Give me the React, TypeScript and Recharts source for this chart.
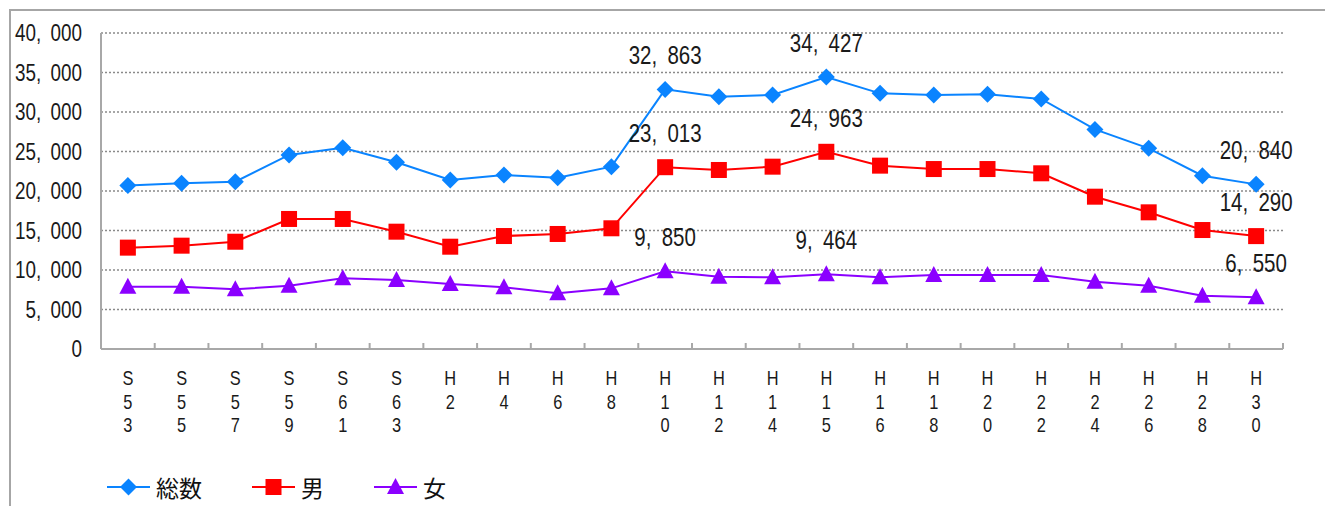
import React from 'react';
import { LineChart, Line, XAxis, YAxis, CartesianGrid, Legend, LabelList } from 'recharts';

const categories = ['S53', 'S55', 'S57', 'S59', 'S61', 'S63', 'H2', 'H4', 'H6', 'H8', 'H10', 'H12', 'H14', 'H15', 'H16', 'H18', 'H20', 'H22', 'H24', 'H26', 'H28', 'H30'];
const totalValues = [20700, 20970, 21180, 24560, 25480, 23630, 21390, 22030, 21690, 23080, 32863, 31940, 32150, 34427, 32360, 32150, 32240, 31650, 27800, 25400, 21940, 20840];
const maleValues = [12830, 13080, 13580, 16460, 16460, 14850, 12950, 14300, 14560, 15280, 23013, 22660, 23080, 24963, 23210, 22780, 22780, 22240, 19280, 17300, 15060, 14290];
const femaleValues = [7890, 7890, 7560, 8010, 8950, 8730, 8230, 7810, 7050, 7680, 9850, 9150, 9070, 9464, 9070, 9370, 9370, 9370, 8520, 8010, 6750, 6550];
const yTicks = [0, 5000, 10000, 15000, 20000, 25000, 30000, 35000, 40000];
const labeledCategories = ['H10', 'H15', 'H30'];
const seriesNames = ['総数', '男', '女'];

const data = categories.map((c, i) => ({
  label: c,
  total: totalValues[i],
  male: maleValues[i],
  female: femaleValues[i],
}));

const SANS = "'Liberation Sans', Arial, sans-serif";
const CJK = "'Noto Sans CJK JP', 'Noto Sans', sans-serif";
const NARROW_SCALE = 0.82;
const BLUE = '#0A84FF';
const RED = '#FF0000';
const PURPLE = '#8B00FF';
const AXIS = '#a8a8a8';

const fmt = (v: number) => {
  if (v === 0) return '0';
  const s = v.toLocaleString('en-US');
  return s.replace(',', ',\u2002');
};

const NarrowText = ({ x, y, anchor, size, children }: any) => (
  <text
    transform={`translate(${x},${y}) scale(${NARROW_SCALE},1)`}
    x={0}
    y={0}
    textAnchor={anchor}
    dominantBaseline="central"
    fontFamily={SANS}
    fontSize={size}
    fill="#1a1a1a"
  >
    {children}
  </text>
);

const Marker = ({ kind, cx, cy, color }: { kind: string; cx: number; cy: number; color: string }) => {
  if (cx == null || cy == null || isNaN(cx) || isNaN(cy)) return null;
  if (kind === 'diamond') {
    const h = 8.5;
    return <polygon points={`${cx},${cy - h} ${cx + h},${cy} ${cx},${cy + h} ${cx - h},${cy}`} fill={color} />;
  }
  if (kind === 'square') {
    return <rect x={cx - 8} y={cy - 8} width={16} height={16} fill={color} />;
  }
  return <polygon points={`${cx},${cy - 9} ${cx + 8.5},${cy + 7} ${cx - 8.5},${cy + 7}`} fill={color} />;
};

const makeDot = (kind: string, color: string) => (props: any) => (
  <Marker key={`${kind}-${props.index}`} kind={kind} cx={props.cx} cy={props.cy} color={color} />
);

const renderValueLabel = (props: any) => {
  const { x, y, value, index } = props;
  if (!labeledCategories.includes(categories[index])) return null;
  return (
    <g key={`lbl-${index}-${value}`}>
      <NarrowText x={x} y={y - 34} anchor="middle" size={25}>
        {fmt(value)}
      </NarrowText>
    </g>
  );
};

const XTick = (props: any) => {
  const { x, y, payload, index } = props;
  const off = payload && payload.offset != null ? payload.offset : 0;
  const chars = String(payload.value).split('');
  const isLast = index === categories.length - 1;
  return (
    <g>
      <line x1={x - off} x2={x - off} y1={y - 6} y2={y} stroke={AXIS} strokeWidth={2} />
      {isLast && <line x1={x + off} x2={x + off} y1={y - 6} y2={y} stroke={AXIS} strokeWidth={2} />}
      {chars.map((ch: string, i: number) => (
        <NarrowText key={i} x={x} y={y + 29 + i * 23.5} anchor="middle" size={20}>
          {ch}
        </NarrowText>
      ))}
    </g>
  );
};

const YTick = (props: any) => {
  const { x, y, payload } = props;
  return (
    <NarrowText x={x} y={y} anchor="end" size={23}>
      {fmt(payload.value)}
    </NarrowText>
  );
};

const legendItems = [
  { name: seriesNames[0], color: BLUE, kind: 'diamond' },
  { name: seriesNames[1], color: RED, kind: 'square' },
  { name: seriesNames[2], color: PURPLE, kind: 'triangle' },
];

const renderLegend = () => (
  <div style={{ display: 'flex', alignItems: 'center', height: 30 }}>
    {legendItems.map((it) => (
      <div key={it.name} style={{ display: 'flex', alignItems: 'center', marginRight: 50 }}>
        <svg width={43} height={20} style={{ display: 'block' }}>
          <line x1={0} x2={43} y1={10} y2={10} stroke={it.color} strokeWidth={2} />
          <Marker kind={it.kind} cx={21.5} cy={10} color={it.color} />
        </svg>
        <span style={{ marginLeft: 6, fontFamily: CJK, fontSize: 23, color: '#111', lineHeight: '30px' }}>{it.name}</span>
      </div>
    ))}
  </div>
);

export default function App() {
  return (
    <div style={{ position: 'fixed', left: 0, top: 0, width: 1325, height: 506, overflow: 'hidden', background: '#fff' }}>
      <div
        style={{
          position: 'absolute',
          left: 9,
          top: 9,
          width: 1400,
          height: 600,
          borderTop: '2px solid #a6a6a6',
          borderLeft: '2px solid #a6a6a6',
        }}
      />
      <div style={{ position: 'absolute', left: 0, top: 0 }}>
        <LineChart width={1325} height={506} data={data} margin={{ top: 33, right: 42, left: 0, bottom: 4 }}>
          <CartesianGrid vertical={false} stroke="#8a8a8a" strokeDasharray="2 2" strokeWidth={1.5} />
          <XAxis
            dataKey="label"
            type="category"
            scale="band"
            interval={0}
            height={123}
            tickSize={0}
            tickMargin={0}
            tickLine={false}
            axisLine={{ stroke: AXIS, strokeWidth: 2 }}
            tick={<XTick />}
          />
          <YAxis
            width={101}
            domain={[0, 40000]}
            ticks={yTicks}
            interval={0}
            tickSize={0}
            tickMargin={19}
            tickLine={false}
            axisLine={{ stroke: AXIS, strokeWidth: 2 }}
            tick={<YTick />}
          />
          <Legend
            verticalAlign="bottom"
            content={renderLegend}
            wrapperStyle={{ left: 107, bottom: 4, height: 30, width: 600 }}
          />
          <Line
            name={seriesNames[0]}
            dataKey="total"
            stroke={BLUE}
            strokeWidth={2}
            dot={makeDot('diamond', BLUE)}
            activeDot={false}
            isAnimationActive={false}
          >
            <LabelList dataKey="total" content={renderValueLabel} />
          </Line>
          <Line
            name={seriesNames[1]}
            dataKey="male"
            stroke={RED}
            strokeWidth={2}
            dot={makeDot('square', RED)}
            activeDot={false}
            isAnimationActive={false}
          >
            <LabelList dataKey="male" content={renderValueLabel} />
          </Line>
          <Line
            name={seriesNames[2]}
            dataKey="female"
            stroke={PURPLE}
            strokeWidth={2}
            dot={makeDot('triangle', PURPLE)}
            activeDot={false}
            isAnimationActive={false}
          >
            <LabelList dataKey="female" content={renderValueLabel} />
          </Line>
        </LineChart>
      </div>
    </div>
  );
}
